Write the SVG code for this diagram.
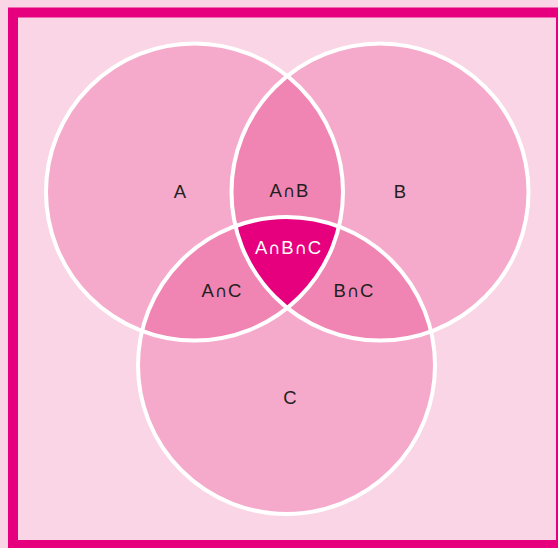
<svg xmlns="http://www.w3.org/2000/svg" width="558" height="548" viewBox="0 0 558 548">
<style>
.lbl{font-family:"Liberation Sans",Arial,sans-serif;font-size:18.5px;fill:#231f20;text-anchor:middle}
.w{fill:#ffffff}
.lbl .cap{font-family:"DejaVu Sans",sans-serif;font-size:16.5px}
.edge{fill:none;stroke:#ffffff;stroke-width:4}
</style>
<defs>
<clipPath id="cA"><circle cx="194.5" cy="192" r="148.5"/></clipPath>
<clipPath id="cB"><circle cx="380" cy="192" r="148.5"/></clipPath>
<clipPath id="cC"><circle cx="286.5" cy="365.5" r="148.5"/></clipPath>
</defs>
<rect x="0" y="0" width="558" height="548" fill="#f9d5e5"/>
<rect x="13" y="12.5" width="548" height="532.5" fill="#f9d5e5" stroke="#e6007e" stroke-width="10"/>
<g id="sets">
<circle cx="194.5" cy="192" r="148.5" fill="#f5aacb"/>
<circle cx="380" cy="192" r="148.5" fill="#f5aacb"/>
<circle cx="286.5" cy="365.5" r="148.5" fill="#f5aacb"/>
<g clip-path="url(#cA)"><circle cx="380" cy="192" r="148.5" fill="#f085b3"/><circle cx="286.5" cy="365.5" r="148.5" fill="#f085b3"/></g>
<g clip-path="url(#cB)"><circle cx="286.5" cy="365.5" r="148.5" fill="#f085b3"/></g>
<g clip-path="url(#cA)"><g clip-path="url(#cB)"><circle cx="286.5" cy="365.5" r="148.5" fill="#e6007e"/></g></g>
<circle class="edge" cx="194.5" cy="192" r="148.5"/>
<circle class="edge" cx="380" cy="192" r="148.5"/>
<circle class="edge" cx="286.5" cy="365.5" r="148.5"/>
</g>
<g id="labels">
<text id="A" class="lbl" x="180" y="198">A</text>
<text id="AB" class="lbl" x="289" y="197">A<tspan class="cap" dx="1">∩</tspan><tspan dx="1">B</tspan></text>
<text id="B" class="lbl" x="400" y="198">B</text>
<text id="ABC" class="lbl w" x="288" y="254">A<tspan class="cap" dx="1">∩</tspan><tspan dx="1">B</tspan><tspan class="cap" dx="1">∩</tspan><tspan dx="1">C</tspan></text>
<text id="AC" class="lbl" x="221.5" y="297">A<tspan class="cap" dx="1">∩</tspan><tspan dx="1">C</tspan></text>
<text id="BC" class="lbl" x="353.5" y="297">B<tspan class="cap" dx="1">∩</tspan><tspan dx="1">C</tspan></text>
<text id="C" class="lbl" x="290" y="404">C</text>
</g>
</svg>
